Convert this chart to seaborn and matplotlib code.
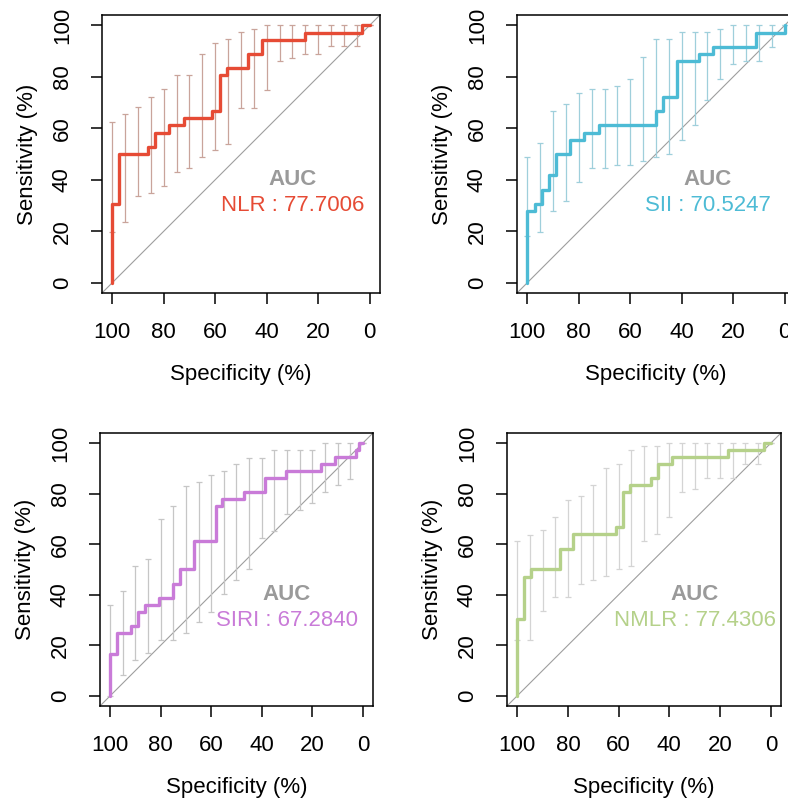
import numpy as np
import matplotlib
matplotlib.use("Agg")
import matplotlib.pyplot as plt
import seaborn as sns

sns.set_theme(style="ticks")
plt.rcParams['font.family'] = ['Liberation Sans', 'DejaVu Sans']

# ROC plateaus: (specificity where the plateau ends, sensitivity level), in %
nlr_spec = [100, 97.2, 86.1, 83.3, 77.8, 72.2, 61.1, 58.3, 55.6, 47.2, 41.7, 25.0, 2.8, 0]
nlr_sens = [0, 30.6, 50.0, 52.8, 58.3, 61.1, 63.9, 66.7, 80.6, 83.3, 88.9, 94.4, 97.2, 100]

sii_spec = [100, 97.2, 94.4, 91.7, 88.9, 83.3, 77.8, 72.2, 50.0, 47.2, 41.7, 33.3, 27.8, 11.1, 0, 0]
sii_sens = [0, 27.8, 30.6, 36.1, 41.7, 50.0, 55.6, 58.3, 61.1, 66.7, 72.2, 86.1, 88.9, 91.7, 97.2, 100]

siri_spec = [100, 97.2, 91.7, 88.9, 86.1, 80.6, 75.0, 72.2, 66.7, 58.3, 55.6, 47.2, 38.9, 30.6,
             16.7, 11.1, 2.8, 1.4, 0]
siri_sens = [0, 16.7, 25.0, 27.8, 33.3, 36.1, 38.9, 44.4, 50.0, 61.1, 75.0, 77.8, 80.6, 86.1,
             88.9, 91.7, 94.4, 97.2, 100]

nmlr_spec = [100, 97.2, 94.4, 83.3, 77.8, 61.1, 58.3, 55.6, 47.2, 44.4, 38.9, 16.7, 2.8, 0]
nmlr_sens = [0, 30.6, 47.2, 50.0, 58.3, 63.9, 66.7, 80.6, 83.3, 86.1, 91.7, 94.4, 97.2, 100]

# CI of sensitivity at fixed specificities
ci_spec = [100, 95, 90, 85, 80, 75, 70, 65, 60, 55, 50, 45, 40, 35, 30, 25, 20, 15, 10, 5, 0]

nlr_lo = [19.6, 23.7, 33.5, 34.8, 37.6, 42.9, 44.4, 48.8, 51.4, 54.0, 67.8, 67.8, 75.0, 86.3, 87.3,
          89.0, 89.0, 91.8, 91.8, 91.8, 100]
nlr_hi = [62.6, 65.5, 68.1, 72.1, 75.2, 80.5, 80.5, 89.0, 93.1, 94.7, 97.3, 98.6, 100, 100, 100,
          100, 100, 100, 100, 100, 100]

sii_lo = [18.2, 19.6, 27.9, 31.9, 39.0, 44.5, 44.5, 45.8, 45.8, 47.1, 48.7, 50.0, 55.6, 61.2, 70.9,
          79.2, 84.8, 86.1, 86.1, 91.7, 100]
sii_hi = [48.8, 54.3, 66.6, 69.5, 73.8, 75.1, 75.1, 76.4, 79.2, 87.7, 94.5, 94.5, 97.4, 97.4, 97.4,
          98.7, 100, 100, 100, 100, 100]

siri_lo = [0, 8.4, 14.1, 16.8, 22.3, 22.3, 25.0, 29.2, 33.2, 40.2, 46.0, 50.1, 62.5, 65.3, 72.1,
           73.6, 76.3, 80.6, 83.3, 85.9, 100]
siri_hi = [36.1, 41.5, 51.4, 54.3, 69.8, 75.0, 83.2, 84.6, 87.5, 88.8, 91.7, 94.3, 94.3, 97.1, 97.1,
           97.1, 97.1, 100, 100, 100, 100]

nmlr_lo = [22.3, 22.3, 33.5, 39.1, 39.1, 44.4, 46.0, 47.3, 50.1, 51.4, 61.1, 63.9, 70.8, 80.6, 81.9,
           86.3, 86.3, 86.3, 91.8, 91.8, 100]
nmlr_hi = [61.3, 63.8, 65.5, 70.8, 77.3, 79.1, 83.3, 90.2, 91.8, 97.4, 98.7, 98.7, 100, 100, 100,
           100, 100, 100, 100, 100, 100]

names = ["NLR", "SII", "SIRI", "NMLR"]
auc_labels = ["NLR : 77.7006", "SII : 70.5247", "SIRI : 67.2840", "NMLR : 77.4306"]
line_colors = ["#E64B35", "#4DBBD5", "#C97BD8", "#B5D18A"]
bar_colors = ["#C9A49B", "#9FCFDB", "#C6C6C6", "#D4D4D4"]

curves = [(nlr_spec, nlr_sens, nlr_lo, nlr_hi),
          (sii_spec, sii_sens, sii_lo, sii_hi),
          (siri_spec, siri_sens, siri_lo, siri_hi),
          (nmlr_spec, nmlr_sens, nmlr_lo, nmlr_hi)]

# axes boxes in figure fraction (the top-right one runs off the canvas)
boxes = [[0.1294, 0.6328, 0.3528, 0.3484],
         [0.6561, 0.6328, 0.3528, 0.3484],
         [0.1269, 0.1153, 0.3464, 0.3421],
         [0.6434, 0.1153, 0.3477, 0.3421]]

fig = plt.figure(figsize=(7.88, 7.98), dpi=100)

for i in range(4):
    spec, sens, lo, hi = curves[i]
    ax = fig.add_axes(boxes[i])
    ax.set_xlim(104, -4)
    ax.set_ylim(-4, 104)

    ax.axline((100, 0), (0, 100), color="#9E9E9E", lw=0.8, zorder=1)

    lo_a = np.array(lo)
    hi_a = np.array(hi)
    ax.errorbar(ci_spec, (lo_a + hi_a) / 2, yerr=(hi_a - lo_a) / 2, fmt="none",
                ecolor=bar_colors[i], elinewidth=0.9, capsize=2.3, capthick=0.9, zorder=2)

    sns.lineplot(x=spec, y=sens, sort=False, estimator=None, drawstyle="steps-pre",
                 color=line_colors[i], linewidth=2.4, ax=ax, zorder=3)

    ax.text(30, 40, "AUC", color="#9A9A9A", fontsize=16, fontweight="bold",
            ha="center", va="center")
    ax.text(30, 30, auc_labels[i], color=line_colors[i], fontsize=16,
            ha="center", va="center")

    ax.set_xticks([100, 80, 60, 40, 20, 0])
    ax.set_yticks([0, 20, 40, 60, 80, 100])
    ax.tick_params(axis="both", direction="out", length=8, width=1.1, color="black",
                   labelsize=16, pad=13, labelcolor="black")
    for lab in ax.get_yticklabels():
        lab.set_rotation(90)
        lab.set_va("center")
    ax.set_xlabel("Specificity (%)", fontsize=16, labelpad=15, color="black")
    ax.set_ylabel("Sensitivity (%)", fontsize=16, labelpad=10, color="black")
    for sp in ax.spines.values():
        sp.set_visible(True)
        sp.set_color("black")
        sp.set_linewidth(1.1)

fig.savefig("out.png", dpi=100)
